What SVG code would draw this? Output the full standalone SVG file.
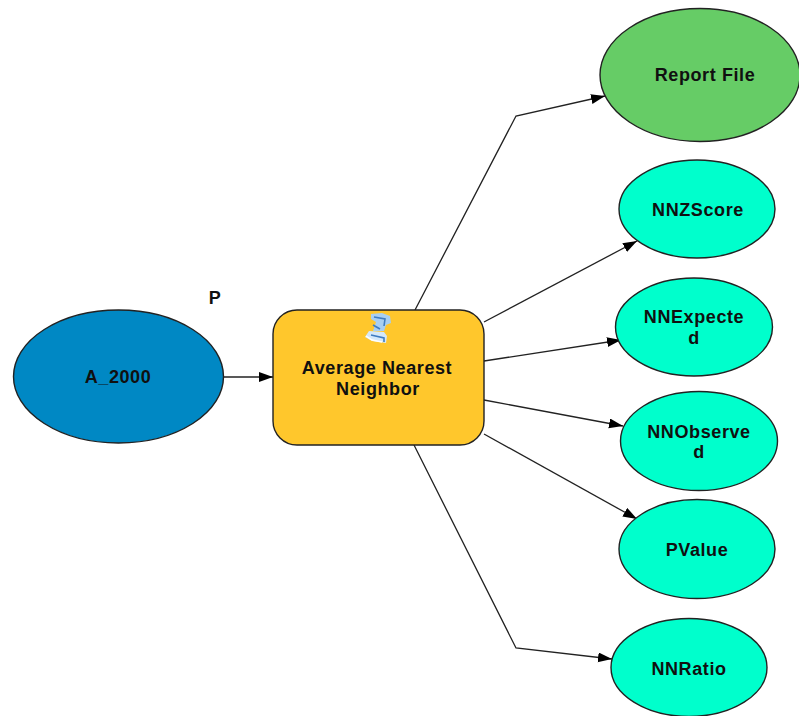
<svg xmlns="http://www.w3.org/2000/svg" width="799" height="716" viewBox="0 0 799 716">
<style>
.n{stroke:#222;stroke-width:1.4}
.c{fill:none;stroke:#222;stroke-width:1.3;marker-end:url(#a)}
.t{font-family:"Liberation Sans",Arial,sans-serif;font-size:18px;letter-spacing:.6px;font-weight:700;fill:#101010;text-anchor:middle}
.out{fill:#00ffcc}
</style>
<defs>
<marker id="a" markerUnits="userSpaceOnUse" markerWidth="15" markerHeight="12" refX="14" refY="5" orient="auto"><path d="M0 0L14 5L0 10z" fill="#000"/></marker>
</defs>
<rect width="799" height="716" fill="#fff"/>
<g id="connectors">
<path class="c" d="M223 377H273"/>
<path class="c" d="M415 310L516 116L605 96"/>
<path class="c" d="M484 322L637 241"/>
<path class="c" d="M484 361L621 340"/>
<path class="c" d="M484 400L623 426"/>
<path class="c" d="M484 434L637 519"/>
<path class="c" d="M414 445L516 648L612 659"/>
</g>
<g id="a2000"><ellipse class="n" cx="118.500" cy="376.500" rx="105" ry="66.500" fill="#0088c4"/><text class="t" x="118" y="383">A_2000</text></g>
<g id="p-label"><text class="t" x="215" y="304">P</text></g>
<g id="tool"><rect class="n" x="273" y="310" width="211" height="135" rx="24" fill="#ffc72c"/>
<g id="tool-icon">
<path d="M371 314L382 313L390 316L391 323L386 325L384 331L373 331L376 322L371 319Z" fill="#a8cff2"/>
<path d="M369 331L384 332L387 336L386 343L372 341L365 337Z" fill="#d4e8fa"/>
<path d="M374 317L385 319L384 326M373 325L380 329M371 335L384 338L384 342" stroke="#3f7cc0" stroke-width="1.600" fill="none"/>
<path d="M366 336L372 340L382 342" stroke="#fff" stroke-width="1.500" fill="none"/>
</g>
<text class="t" x="377" y="374">Average Nearest</text><text class="t" x="378" y="395">Neighbor</text></g>
<g id="report"><ellipse class="n" cx="700" cy="75" rx="100" ry="66.500" fill="#66cc66"/><text class="t" x="705" y="81">Report File</text></g>
<g id="zscore"><ellipse class="n out" cx="697" cy="209" rx="78" ry="49"/><text class="t" x="698" y="216">NNZScore</text></g>
<g id="expected"><ellipse class="n out" cx="694" cy="327" rx="78.500" ry="49"/><text class="t" x="694" y="323">NNExpecte</text><text class="t" x="694" y="344">d</text></g>
<g id="observed"><ellipse class="n out" cx="699" cy="441" rx="78.500" ry="49.500"/><text class="t" x="699" y="438">NNObserve</text><text class="t" x="699" y="458">d</text></g>
<g id="pvalue"><ellipse class="n out" cx="697" cy="549" rx="78" ry="49.500"/><text class="t" x="697" y="556">PValue</text></g>
<g id="ratio"><ellipse class="n out" cx="689" cy="667.500" rx="78" ry="49"/><text class="t" x="689" y="675">NNRatio</text></g>
</svg>
